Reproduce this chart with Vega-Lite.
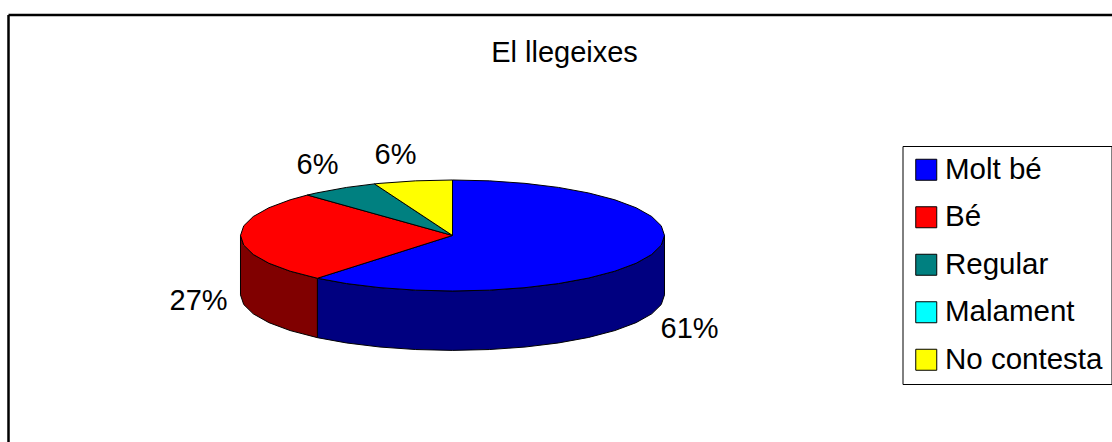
{"$schema":"https://vega.github.io/schema/vega-lite/v6.json","width":1112,"height":442,"padding":0,"autosize":{"type":"none"},"background":"white","config":{"view":{"stroke":null},"font":"Liberation Sans"},"title":{"text":"El llegeixes","font":"Liberation Sans","fontSize":29,"fontWeight":"normal","color":"black","anchor":"middle","baseline":"alphabetic","offset":-91,"dx":8.5},
"datasets":{"frame":[{"left":-2.0943,"top":3.973,"right":3.1108,"bottom":-3.7207}],"labels":[{"cat":"Molt bé","share":0.61,"u":1.118,"v":-1.679},{"cat":"Bé","share":0.27,"u":-1.198,"v":-1.179},{"cat":"Regular","share":0.06,"u":-0.637,"v":1.268},{"cat":"No contesta","share":0.06,"u":-0.269,"v":1.446}],
"outline":[
{"p":"Molt bé lateral","i":1,"u":1,"v":0},{"p":"Molt bé lateral","i":2,"u":0.9848,"v":-0.1736},{"p":"Molt bé lateral","i":3,"u":0.9397,"v":-0.342},{"p":"Molt bé lateral","i":4,"u":0.866,"v":-0.5},{"p":"Molt bé lateral","i":5,"u":0.766,"v":-0.6428},{"p":"Molt bé lateral","i":6,"u":0.6428,"v":-0.766},{"p":"Molt bé lateral","i":7,"u":0.5,"v":-0.866},{"p":"Molt bé lateral","i":8,"u":0.342,"v":-0.9397},{"p":"Molt bé lateral","i":9,"u":0.1736,"v":-0.9848},{"p":"Molt bé lateral","i":10,"u":0,"v":-1},{"p":"Molt bé lateral","i":11,"u":-0.1736,"v":-0.9848},{"p":"Molt bé lateral","i":12,"u":-0.342,"v":-0.9397},{"p":"Molt bé lateral","i":13,"u":-0.5,"v":-0.866},{"p":"Molt bé lateral","i":14,"u":-0.6374,"v":-0.7705},
{"p":"Molt bé lateral","i":15,"u":-0.6374,"v":-1.8405},{"p":"Molt bé lateral","i":16,"u":-0.5,"v":-1.936},{"p":"Molt bé lateral","i":17,"u":-0.342,"v":-2.0097},{"p":"Molt bé lateral","i":18,"u":-0.1736,"v":-2.0548},{"p":"Molt bé lateral","i":19,"u":0,"v":-2.07},{"p":"Molt bé lateral","i":20,"u":0.1736,"v":-2.0548},{"p":"Molt bé lateral","i":21,"u":0.342,"v":-2.0097},{"p":"Molt bé lateral","i":22,"u":0.5,"v":-1.936},{"p":"Molt bé lateral","i":23,"u":0.6428,"v":-1.836},{"p":"Molt bé lateral","i":24,"u":0.766,"v":-1.7128},{"p":"Molt bé lateral","i":25,"u":0.866,"v":-1.57},{"p":"Molt bé lateral","i":26,"u":0.9397,"v":-1.412},{"p":"Molt bé lateral","i":27,"u":0.9848,"v":-1.2436},{"p":"Molt bé lateral","i":28,"u":1,"v":-1.07},{"p":"Molt bé lateral","i":29,"u":1,"v":0},
{"p":"Bé lateral","i":1,"u":-0.6374,"v":-0.7705},{"p":"Bé lateral","i":2,"u":-0.766,"v":-0.6428},{"p":"Bé lateral","i":3,"u":-0.866,"v":-0.5},{"p":"Bé lateral","i":4,"u":-0.9397,"v":-0.342},{"p":"Bé lateral","i":5,"u":-0.9848,"v":-0.1736},{"p":"Bé lateral","i":6,"u":-1,"v":0},{"p":"Bé lateral","i":7,"u":-1,"v":-1.07},{"p":"Bé lateral","i":8,"u":-0.9848,"v":-1.2436},{"p":"Bé lateral","i":9,"u":-0.9397,"v":-1.412},{"p":"Bé lateral","i":10,"u":-0.866,"v":-1.57},{"p":"Bé lateral","i":11,"u":-0.766,"v":-1.7128},{"p":"Bé lateral","i":12,"u":-0.6374,"v":-1.8405},{"p":"Bé lateral","i":13,"u":-0.6374,"v":-0.7705},
{"p":"Molt bé","i":0,"u":0,"v":0},{"p":"Molt bé","i":1,"u":0,"v":1},{"p":"Molt bé","i":2,"u":0.1736,"v":0.9848},{"p":"Molt bé","i":3,"u":0.342,"v":0.9397},{"p":"Molt bé","i":4,"u":0.5,"v":0.866},{"p":"Molt bé","i":5,"u":0.6428,"v":0.766},{"p":"Molt bé","i":6,"u":0.766,"v":0.6428},{"p":"Molt bé","i":7,"u":0.866,"v":0.5},{"p":"Molt bé","i":8,"u":0.9397,"v":0.342},{"p":"Molt bé","i":9,"u":0.9848,"v":0.1736},{"p":"Molt bé","i":10,"u":1,"v":0},{"p":"Molt bé","i":11,"u":0.9848,"v":-0.1736},{"p":"Molt bé","i":12,"u":0.9397,"v":-0.342},{"p":"Molt bé","i":13,"u":0.866,"v":-0.5},{"p":"Molt bé","i":14,"u":0.766,"v":-0.6428},{"p":"Molt bé","i":15,"u":0.6428,"v":-0.766},{"p":"Molt bé","i":16,"u":0.5,"v":-0.866},{"p":"Molt bé","i":17,"u":0.342,"v":-0.9397},{"p":"Molt bé","i":18,"u":0.1736,"v":-0.9848},{"p":"Molt bé","i":19,"u":0,"v":-1},{"p":"Molt bé","i":20,"u":-0.1736,"v":-0.9848},{"p":"Molt bé","i":21,"u":-0.342,"v":-0.9397},{"p":"Molt bé","i":22,"u":-0.5,"v":-0.866},{"p":"Molt bé","i":23,"u":-0.6374,"v":-0.7705},{"p":"Molt bé","i":24,"u":0,"v":0},
{"p":"Bé","i":0,"u":0,"v":0},{"p":"Bé","i":1,"u":-0.6374,"v":-0.7705},{"p":"Bé","i":2,"u":-0.766,"v":-0.6428},{"p":"Bé","i":3,"u":-0.866,"v":-0.5},{"p":"Bé","i":4,"u":-0.9397,"v":-0.342},{"p":"Bé","i":5,"u":-0.9848,"v":-0.1736},{"p":"Bé","i":6,"u":-1,"v":0},{"p":"Bé","i":7,"u":-0.9848,"v":0.1736},{"p":"Bé","i":8,"u":-0.9397,"v":0.342},{"p":"Bé","i":9,"u":-0.866,"v":0.5},{"p":"Bé","i":10,"u":-0.766,"v":0.6428},{"p":"Bé","i":11,"u":-0.6845,"v":0.729},{"p":"Bé","i":12,"u":0,"v":0},
{"p":"Regular","i":0,"u":0,"v":0},{"p":"Regular","i":1,"u":-0.6845,"v":0.729},{"p":"Regular","i":2,"u":-0.6428,"v":0.766},{"p":"Regular","i":3,"u":-0.5,"v":0.866},{"p":"Regular","i":4,"u":-0.3681,"v":0.9298},{"p":"Regular","i":5,"u":0,"v":0},
{"p":"No contesta","i":0,"u":0,"v":0},{"p":"No contesta","i":1,"u":-0.3681,"v":0.9298},{"p":"No contesta","i":2,"u":-0.342,"v":0.9397},{"p":"No contesta","i":3,"u":-0.1736,"v":0.9848},{"p":"No contesta","i":4,"u":0,"v":1},{"p":"No contesta","i":5,"u":0,"v":0}
]},
"layer":[
{"data":{"name":"outline"},"mark":{"type":"line","stroke":"black","strokeWidth":1,"strokeJoin":"round","clip":false},
"encoding":{"x":{"field":"u","type":"quantitative","axis":null,"scale":{"domain":[-2.1344,3.1108],"nice":false,"zero":false}},"y":{"field":"v","type":"quantitative","axis":null,"scale":{"domain":[-3.7207,4.2432],"nice":false,"zero":false}},"order":{"field":"i"},"detail":{"field":"p"},
"fill":{"field":"p","type":"nominal","scale":{"domain":["Molt bé","Bé","Regular","Malament","No contesta","Molt bé lateral","Bé lateral"],"range":["#0000ff","#ff0000","#008080","#00ffff","#ffff00","#000080","#800000"]},
"legend":{"title":null,"orient":"none","legendX":902.5,"legendY":146,"values":["Molt bé","Bé","Regular","Malament","No contesta"],"symbolType":"square","symbolSize":441,"symbolStrokeColor":"black","symbolStrokeWidth":1,"labelFont":"Liberation Sans","labelFontSize":29.5,"labelColor":"black","labelOffset":4,"labelLimit":300,"rowPadding":16.5,"padding":9,"strokeColor":"black","fillColor":"white"}}}},
{"data":{"name":"labels"},"mark":{"type":"text","font":"Liberation Sans","fontSize":29,"color":"black"},"encoding":{"x":{"field":"u","type":"quantitative"},"y":{"field":"v","type":"quantitative"},"text":{"field":"share","type":"quantitative","format":".0%"}}},
{"data":{"name":"frame"},"mark":{"type":"rule","stroke":"black","strokeWidth":2.5},"encoding":{"x":{"field":"left","type":"quantitative"},"y":{"field":"top","type":"quantitative"},"y2":{"field":"bottom"}}},
{"data":{"name":"frame"},"mark":{"type":"rule","stroke":"black","strokeWidth":2.5},"encoding":{"y":{"field":"top","type":"quantitative"},"x":{"field":"left","type":"quantitative"},"x2":{"field":"right"}}}
]}
